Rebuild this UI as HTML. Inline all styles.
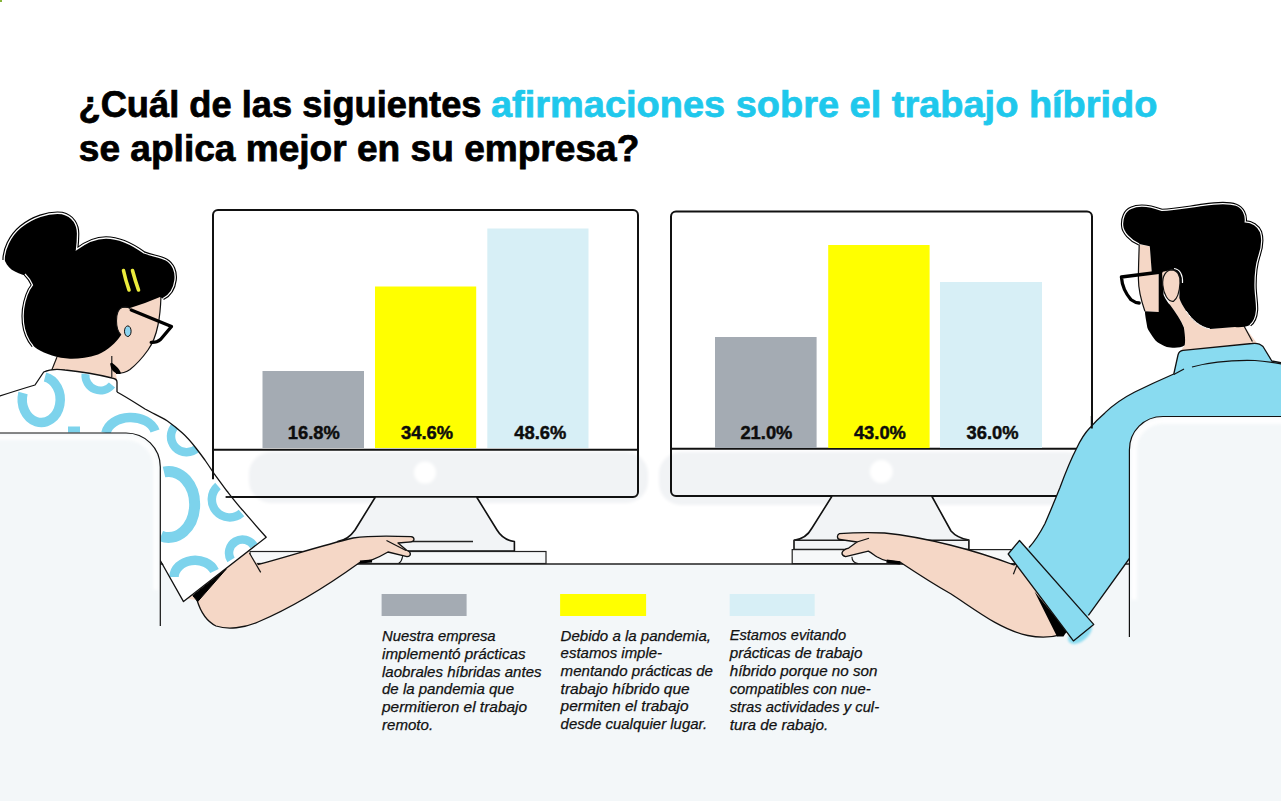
<!DOCTYPE html>
<html lang="es">
<head>
<meta charset="utf-8">
<title>Trabajo híbrido</title>
<style>
html,body{margin:0;padding:0;background:#fff;}
body{width:1281px;height:801px;overflow:hidden;position:relative;}
svg{position:absolute;left:0;top:0;display:block;}
.t{font-family:"Liberation Sans",Arial,sans-serif;font-weight:bold;}
.lg{font-family:"Liberation Sans",Arial,sans-serif;font-style:italic;font-size:14.6px;fill:#111;stroke:#111;stroke-width:0.25px;}
.pc{font-family:"Liberation Sans",Arial,sans-serif;font-weight:bold;font-size:18.2px;fill:#0d0d0d;stroke:#0d0d0d;stroke-width:0.45px;}
</style>
</head>
<body>
<svg width="1281" height="801" viewBox="0 0 1281 801">
<defs>
  <filter id="bl3" x="-20%" y="-50%" width="140%" height="200%"><feGaussianBlur stdDeviation="3"/></filter>
  <filter id="bl1" x="-20%" y="-50%" width="140%" height="200%"><feGaussianBlur stdDeviation="1.2"/></filter>
  <filter id="bl2" x="-20%" y="-50%" width="140%" height="200%"><feGaussianBlur stdDeviation="1.5"/></filter>
  <clipPath id="shirtclip"><path d="M-5,398 L0,396 C12,392 25,388 35,385 L43.7,372 C50,369 58,369 65,370 C85,372 100,375 112,378 C115,378.5 117,379.5 117,382 L117,392 C128,398 137,404 145,409 C153,413.5 161,417 167.4,421 C173,425 178,429 182.4,433 C188,438 192,443 195.9,448 C199,452 202,456 204.9,460 C208,464.5 211,469 213.9,473.4 C218,479 222.5,485 226.9,491 C232,497.5 237,504 242.6,510.2 C250,519 258,528 266.2,537.2 L183.5,601.6 L150,540 L150,650 L-5,650 Z"/></clipPath>
</defs>
<!-- background -->
<rect x="0" y="0" width="1281" height="801" fill="#ffffff"/>
<rect x="0" y="0" width="2" height="2" fill="#86b43a"/>
<!-- desk -->
<rect x="0" y="564" width="1281" height="237" fill="#f3f7f9"/>

<!-- ===== TITLE ===== -->
<text class="t" x="78.5" y="117" font-size="37" fill="#000" stroke="#000" stroke-width="0.75" textLength="403" lengthAdjust="spacingAndGlyphs">¿Cuál de las siguientes</text>
<text class="t" x="491" y="117" font-size="37" fill="#1fc8ec" stroke="#1fc8ec" stroke-width="0.75" textLength="666.5" lengthAdjust="spacingAndGlyphs">afirmaciones sobre el trabajo híbrido</text>
<text class="t" x="78.8" y="161" font-size="37" fill="#000" stroke="#000" stroke-width="0.75" textLength="560.5" lengthAdjust="spacingAndGlyphs">se aplica mejor en su empresa?</text>

<!-- MONITORS go here -->
<g id="mon1">
  <rect x="213" y="210" width="425" height="287" rx="5" fill="#fff"/>
  <rect x="249" y="452" width="399" height="51" rx="22" fill="#f1f3f5" filter="url(#bl2)"/>
  <circle cx="425" cy="472.6" r="11" fill="#fff" filter="url(#bl2)"/>
  <rect x="213" y="210" width="425" height="287" rx="5" fill="none" stroke="#111" stroke-width="2"/>
  <line x1="213" y1="449.7" x2="638" y2="449.7" stroke="#111" stroke-width="2"/>
  <!-- stand -->
  <path d="M375.4,497 L355,530 Q348,540 337.6,541.5 L337.6,551 L514.4,551 L514.4,541.5 Q503,540 497,530 L476.6,497 Z" fill="#f2f4f6" stroke="#111" stroke-width="1.6" stroke-linejoin="round"/>
  <line x1="405" y1="541.5" x2="473" y2="541.5" stroke="#222" stroke-width="1.4"/>
  <!-- keyboard -->
  <rect x="250" y="551.5" width="296" height="12" fill="#f6f8f9" stroke="#222" stroke-width="1.2"/>
  <!-- bars -->
  <rect x="262.5" y="371" width="101.5" height="77" fill="#a4abb3"/>
  <rect x="375" y="286.5" width="101.2" height="161.5" fill="#ffff00"/>
  <rect x="487.3" y="228.5" width="101.2" height="219.5" fill="#d7eff6"/>
  <text class="pc" x="313.8" y="438.9" textLength="52" lengthAdjust="spacingAndGlyphs" text-anchor="middle">16.8%</text>
  <text class="pc" x="427.1" y="438.9" textLength="52" lengthAdjust="spacingAndGlyphs" text-anchor="middle">34.6%</text>
  <text class="pc" x="540.3" y="438.9" textLength="52" lengthAdjust="spacingAndGlyphs" text-anchor="middle">48.6%</text>
</g>

<g id="mon2">
  <rect x="671" y="211.5" width="421" height="284.5" rx="5" fill="#fff"/>
  <rect x="659" y="452" width="430" height="53" rx="22" fill="#f1f3f5" filter="url(#bl2)"/>
  <circle cx="881.3" cy="471.6" r="11.5" fill="#fff" filter="url(#bl2)"/>
  <rect x="671" y="211.5" width="421" height="284.5" rx="5" fill="none" stroke="#111" stroke-width="2"/>
  <line x1="671" y1="448.75" x2="1092" y2="448.75" stroke="#111" stroke-width="2"/>
  <path d="M832.1,496 L812,528 Q806,539 794,540.2 L794,549.6 L968.9,549.6 L968.9,540 Q957,538 951,531 L931.7,496 Z" fill="#f2f4f6" stroke="#111" stroke-width="1.6" stroke-linejoin="round"/>
  <rect x="792.2" y="549.6" width="230" height="14" fill="#f6f8f9" stroke="#222" stroke-width="1.2"/>
  <line x1="794" y1="540.2" x2="968.9" y2="540.2" stroke="#222" stroke-width="1.4"/>
  <rect x="715" y="337" width="101.6" height="111" fill="#a4abb3"/>
  <rect x="828.2" y="245" width="101.4" height="203" fill="#ffff00"/>
  <rect x="940" y="282" width="102" height="166" fill="#d7eff6"/>
  <text class="pc" x="766.4" y="438.8" textLength="52" lengthAdjust="spacingAndGlyphs" text-anchor="middle">21.0%</text>
  <text class="pc" x="879.9" y="438.8" textLength="52" lengthAdjust="spacingAndGlyphs" text-anchor="middle">43.0%</text>
  <text class="pc" x="992.6" y="438.8" textLength="52" lengthAdjust="spacingAndGlyphs" text-anchor="middle">36.0%</text>
</g>
<!-- desk edge -->
<line x1="160" y1="564" x2="1129" y2="564" stroke="#222" stroke-width="1.3"/>

<!-- WOMAN -->
<g id="woman">
  <!-- skin: face + neck -->
  <path d="M50,373 L57,355 L100,352 L117,309 L161,295 C160.5,310 159.5,318 158,325 C156,335 153,343 148,350 C143,357 137,364 130,369.5 C126,372.5 121,373.5 116,373.5 L117,381 Z" fill="#f5d7c6"/>
  <path d="M161,296 C160.5,310 159.5,318 158,325 C156,335 153,343 148,350 C143,357 137,364 130,369.5 C126,372.5 121,373.5 116,373.5" fill="none" stroke="#111" stroke-width="1.2"/>
  <path d="M111.8,356 L111.8,377" stroke="#111" stroke-width="1.1" fill="none"/>
  <path d="M111.5,364 C112,369 114.5,372 119.5,372.8 C118,369.5 115,366.5 111.5,364 Z" fill="#000" stroke="#000" stroke-width="2.6" stroke-linejoin="round"/>
  <path d="M57,357 L51,372" stroke="#111" stroke-width="1.1"/>
  <!-- hair -->
  <path id="whair" d="M4.2,260 C4,250 10,236 21,227 C32,218 48,212 62,213.5 C73,216 78,225 77.5,235 C77.5,241 77,246 76.5,249.6 C85,243 95,238 106,238 C120,238 133,245 144,253 C152,256 160,257 166,260 C173,264 176,272 175,280 C174,288 170,295 163,298.5 L160,297 C150,301 140,305 130,308 L122,307.5 C118,309 116.5,315 116.5,321 C116.5,327 118,332 121,335 C116,343 108,350 98,354.5 C88,358 78,359 70,358.8 C58,358 45,354 37.3,349 C30,344 25,335 23.5,323 C22.5,313 24,303 27,295 C28.5,291 30,288 32.5,285 C30,281 28,278 27,276 C15,273 6,268 4.2,258 Z" fill="#000"/>
  <g fill="none">
  <path d="M4.2,260 C4,250 10,236 21,227 C32,218 48,212 62,213.5 C73,216 78,225 77.5,235 C77.5,241 77,246 76.5,249.6 C85,243 95,238 106,238 C120,238 133,245 144,253 C152,256 160,257 166,260 C173,264 176,272 175,280 C174,288 170,295 163,298.5" stroke="#000" stroke-width="3.6"/>
  <path d="M4.2,260 C4,250 10,236 21,227 C32,218 48,212 62,213.5 C73,216 78,225 77.5,235 C77.5,241 77,246 76.5,249.6 C85,243 95,238 106,238 C120,238 133,245 144,253 C152,256 160,257 166,260 C173,264 176,272 175,280 C174,288 170,295 163,298.5" stroke="#fff" stroke-width="1.3"/>
  <path d="M25,274 C29,278 31,281 32.5,285 C30,288 28.5,291 27,295 C24,303 22.5,313 23.5,323 C24.5,332 28,340 33,346" stroke="#000" stroke-width="3.4"/>
  <path d="M25,274 C29,278 31,281 32.5,285 C30,288 28.5,291 27,295 C24,303 22.5,313 23.5,323 C24.5,332 28,340 33,346" stroke="#fff" stroke-width="1.2"/>
  </g>
  <!-- ear -->
  <path d="M121,335 C118,332 116.5,327 116.5,321 C116.5,315 118,309 122,307.5 C125,306.5 128,307 130,308.5" fill="none" stroke="#111" stroke-width="1.1"/>
  <ellipse cx="127.8" cy="331.2" rx="3.3" ry="5.3" fill="#8dd4f0" stroke="#111" stroke-width="1"/>
  <!-- clips -->
  <path d="M123.5,270.5 Q125.5,280 129,290" fill="none" stroke="#ecec3c" stroke-width="3.6" stroke-linecap="round"/>
  <path d="M132.5,270.5 Q135,280 138.5,290" fill="none" stroke="#ecec3c" stroke-width="3.6" stroke-linecap="round"/>
  <!-- glasses -->
  <path d="M131.2,310 L171.5,326.5 L160.5,339.5 C157.5,342 154,342.6 151.2,342.4" fill="none" stroke="#000" stroke-width="3.3" stroke-linejoin="round" stroke-linecap="round"/>
  <!-- arm -->
  <path d="M257.7,564.6 C290,556 320,546 353,538 C370,535.5 395,536 411,536.7 C415,537.2 415,541.5 411,541.8 L398,543 L407,550.5 C411.5,552 411.5,556.5 407,556.6 L388,552 C383,555 377,558 371.4,560.1 L359.7,562.5 C334,581 296,606 258,622 C244,628 228,630 216,626 C206,621 200,610 197,600 L180,598 L248,546 L249.4,553 Z" fill="#f5d7c6"/>
  <path d="M257.7,564.6 C290,556 320,546 353,538 C370,535.5 395,536 411,536.7 C415,537.2 415,541.5 411,541.8 L398,543 L407,550.5 C411.5,552 411.5,556.5 407,556.6 L388,552 C383,555 377,558 371.4,560.1 L359.7,562.5 C334,581 296,606 258,622 C244,628 228,630 216,626 C206,621 200,610 197,600" fill="none" stroke="#111" stroke-width="1.3" stroke-linejoin="round"/>
  <path d="M386.5,540.5 L406,550.5" stroke="#111" stroke-width="1.2"/>
  <path d="M402.6,556.2 C402,560 400.5,562.5 398.7,563.3" fill="none" stroke="#111" stroke-width="1.1"/>
  <path d="M360,562 L372,561" stroke="#000" stroke-width="3.2"/>
  <!-- shirt -->
  <path d="M-5,398 L0,396 C12,392 25,388 35,385 L43.7,372 C50,369 58,369 65,370 C85,372 100,375 112,378 C115,378.5 117,379.5 117,382 L117,392 C128,398 137,404 145,409 C153,413.5 161,417 167.4,421 C173,425 178,429 182.4,433 C188,438 192,443 195.9,448 C199,452 202,456 204.9,460 C208,464.5 211,469 213.9,473.4 C218,479 222.5,485 226.9,491 C232,497.5 237,504 242.6,510.2 C250,519 258,528 266.2,537.2 L183.5,601.6 L150,540 L150,650 L-5,650 Z" fill="#fff"/>
  <path d="M-5,398 L0,396 C12,392 25,388 35,385 L43.7,372 C50,369 58,369 65,370 C85,372 100,375 112,378 C115,378.5 117,379.5 117,382 L117,392" fill="none" stroke="#111" stroke-width="1.3" stroke-linejoin="round"/>
  <!-- arcs -->
  <g fill="none" stroke="#7dd3ec" stroke-width="9.5" clip-path="url(#shirtclip)">
    <path d="M45,377 A19,23 0 1 1 23,393"/>
    <path d="M85.5,374 A15,15 0 0 0 112,385" stroke-width="8"/>
    <path d="M106,433 A25,18 0 0 1 155,431"/>
    <path d="M176,425 A13,13 0 1 0 197.5,448" stroke-width="8.5"/>
    <path d="M164,472 A26,33 0 1 1 161,536" stroke-width="11"/>
    <path d="M218,486 A14,14 0 1 0 241.5,513" stroke-width="8.5"/>
    <path d="M174,577 A21,17 0 0 1 214.5,571"/>
    <path d="M231,560 A13,13 0 0 1 254,546" stroke-width="8.5"/>
    <path d="M68,429.5 L80,429.5" stroke-width="6"/>
  </g>
  <!-- black wedge and crease -->
  <path d="M192.8,595.6 L226.2,569.1 L197.7,601.6 Z" fill="#000" stroke="#000" stroke-width="1"/>
  <path d="M249.4,553 L260.7,572.4" stroke="#111" stroke-width="1.2"/>
  <!-- re-stroke sleeve edge on top of arcs -->
  <path d="M117,392 C128,398 137,404 145,409 C153,413.5 161,417 167.4,421 C173,425 178,429 182.4,433 C188,438 192,443 195.9,448 C199,452 202,456 204.9,460 C208,464.5 211,469 213.9,473.4 C218,479 222.5,485 226.9,491 C232,497.5 237,504 242.6,510.2 C250,519 258,528 266.2,537.2 L183.5,601.6 L160,560" fill="none" stroke="#111" stroke-width="1.3" stroke-linejoin="round"/>
  <!-- chair -->
  <path d="M-5,433 L126,433 C145,433 160.3,448 160.3,467 L160.3,660 L-5,660 Z" fill="#f3f7f9"/>
  <path d="M-5,437.5 L126,437.5 C142,437.5 155.8,450 155.8,467 L155.8,590" fill="none" stroke="#fff" stroke-width="5" opacity="0.85" filter="url(#bl2)"/>
  <path d="M-5,433 L126,433 C145,433 160.3,448 160.3,467 L160.3,626" fill="none" stroke="#111" stroke-width="1.2"/>
</g>

<line x1="213" y1="466" x2="213" y2="479.3" stroke="#111" stroke-width="2"/>
<line x1="225.6" y1="497" x2="234" y2="497" stroke="#111" stroke-width="1.8"/>
<!-- MAN -->
<g id="man">
  <!-- neck skin -->
  <path d="M1160,272 L1170,304.7 C1176,313 1181,320 1184,327 L1184.7,345.3 L1179.7,352 L1257.6,344 L1244,326 L1210,329 C1200,327 1192,320 1186.3,311.2 C1183,306 1180.5,302 1179.3,298 L1172,268 Z" fill="#f5d7c6"/>
  <path d="M1244,326 L1252.4,341.5" stroke="#111" stroke-width="1.2"/>
  <!-- face skin -->
  <path d="M1139.2,244.6 L1149.8,246.2 L1151.8,272.8 L1158.7,272.5 L1159,312 L1144.9,311.2 C1141,300 1138.4,290 1138.4,278.7 C1138.4,265 1139,255 1139.2,244.6 Z" fill="#f5d7c6"/>
  <path d="M1139.2,244.6 C1139,255 1138.4,265 1138.4,278.7 C1138.4,290 1141,300 1144.9,311.2" fill="none" stroke="#111" stroke-width="1.2"/>
  <!-- hair + beard -->
  <path d="M1139.2,244 C1130,240 1123,232 1122.7,225.9 C1122,218 1125,211 1131,208.4 C1138,205 1150,206 1161.8,210.4 C1175,210 1190,207 1203,205.3 C1215,203.5 1227,202 1236,205.3 C1243,208 1246,215 1245.2,221.8 C1252,222 1258,226 1260.5,232 C1263,240 1261,250 1258.6,256.8 C1256,265 1255,275 1255,285 C1255,295 1257,303 1256.5,310.3 C1256,317 1254,322 1250,325 C1246,327 1240,327.5 1235,327 L1210,329 C1200,327 1192,320 1186.3,311.2 C1183,306 1180.5,302 1179.3,298 L1179.8,278.7 L1171.7,269.8 L1162,272 L1163.6,295 C1166,300 1168,303 1170,304.7 C1176,313 1181,320 1183.9,327.4 C1185,335 1185.5,341 1184.7,345.3 C1180,348.5 1172,348 1166.8,346.9 C1160,344 1157,342 1155.5,340.4 C1151,334 1148,330 1147.3,327.4 C1146,320 1145,315 1144.9,311.2 L1158.7,312 L1158.7,272.5 L1151.8,272.8 L1149.8,246.2 Z" fill="#000"/>
  <path d="M1139.2,244 C1130,240 1123,232 1122.7,225.9 C1122,218 1125,211 1131,208.4 C1138,205 1150,206 1161.8,210.4 C1175,210 1190,207 1203,205.3 C1215,203.5 1227,202 1236,205.3 C1243,208 1246,215 1245.2,221.8 C1252,222 1258,226 1260.5,232 C1263,240 1261,250 1258.6,256.8 C1256,265 1255,275 1255,285 C1255,295 1257,303 1256.5,310.3 C1256,317 1254,322 1250,325" fill="none" stroke="#000" stroke-width="3.4"/>
  <path d="M1139.2,244 C1130,240 1123,232 1122.7,225.9 C1122,218 1125,211 1131,208.4 C1138,205 1150,206 1161.8,210.4 C1175,210 1190,207 1203,205.3 C1215,203.5 1227,202 1236,205.3 C1243,208 1246,215 1245.2,221.8 C1252,222 1258,226 1260.5,232 C1263,240 1261,250 1258.6,256.8 C1256,265 1255,275 1255,285 C1255,295 1257,303 1256.5,310.3 C1256,317 1254,322 1250,325" fill="none" stroke="#fff" stroke-width="1.2"/>
  <path d="M1186.3,311.2 C1192,320 1200,327 1210,329" fill="none" stroke="#fff" stroke-width="1"/>
  <!-- ear -->
  <path d="M1162.8,285 C1162,276 1166,270 1171.7,269.8 C1177,270 1180.5,275 1180,283 C1179.5,292 1177,299 1173.3,301.4 C1168,302 1163.5,294 1162.8,285 Z" fill="#f5d7c6" stroke="#111" stroke-width="1.2"/>
  <path d="M1174,268.5 C1180,269 1183,275 1182.5,283" fill="none" stroke="#fff" stroke-width="1.2"/>
  <!-- glasses -->
  <path d="M1161,272 L1121.4,277 C1122,285 1126,294 1131.1,299.8 C1134,302 1137,303 1139.2,303" fill="none" stroke="#000" stroke-width="3.3" stroke-linejoin="round" stroke-linecap="round"/>
  <!-- arm -->
  <path d="M1022,559 L1014,565 C990,556 970,550 950,545 C930,540 910,535.5 884.6,533 C870,532.5 850,532.9 839.4,533.7 C836.5,535 837,539.5 840,539.5 L857,542 L848.7,548.1 C841,550 840,555 845.6,556.7 L868.3,551.2 C872,553 874,555 876.8,556.7 C880,558.5 883,560 886.2,560.6 L900.3,562.2 C915,572 930,582 951.1,594 C965,603 980,614 994.9,622.4 C1005,628 1016,633 1027.7,635.5 C1040,638 1050,638 1062.6,634.4 L1070,629 Z" fill="#f5d7c6" stroke="#111" stroke-width="1.3" stroke-linejoin="round"/>
  <path d="M869,538.3 L857,542" stroke="#111" stroke-width="1.2"/>
  <path d="M851.9,556.7 C852,561 854,563 858,563.5" fill="none" stroke="#111" stroke-width="1.1"/>
  <path d="M886.5,561.2 L900,562.8" stroke="#000" stroke-width="3.2"/>
  <path d="M1016.7,565.6 L1013.4,574.3" stroke="#111" stroke-width="1.2"/>
  <path d="M1034.5,591.4 L1057,636.5 L1063.5,636.5 L1067,631 Z" fill="#000"/>
  <!-- shirt -->
  <path d="M1178,355 Q1179,351 1183,350.4 L1252,343.5 Q1259,342.5 1263,346.5 L1271.8,361 L1290,364.5 L1290,660 L1145,660 L1145,537 L1088.4,615.4 L1080,630 L1012,550 L1029,547.5 C1035,541 1040,533 1044.9,523.7 C1050,512 1055,500 1059.9,487.8 C1065,474 1070,461 1076.4,448.8 C1080,441 1084,434 1089.9,427.8 C1094,423 1099,418 1104.9,412.9 C1112,406 1123,398 1134.8,392 C1147,386 1160,380 1173.8,374 Z" fill="#89dbf0"/>
  <path d="M1129.4,558.5 L1088.4,615.4 M1029,547.5 C1035,541 1040,533 1044.9,523.7 C1050,512 1055,500 1059.9,487.8 C1065,474 1070,461 1076.4,448.8 C1080,441 1084,434 1089.9,427.8 C1094,423 1099,418 1104.9,412.9 C1112,406 1123,398 1134.8,392 C1147,386 1160,380 1173.8,374 L1178,355 Q1179,351 1183,350.4 L1252,343.5 Q1259,342.5 1263,346.5 L1271.8,361 L1290,364.5" fill="none" stroke="#111" stroke-width="1.3" stroke-linejoin="round"/>
  <path d="M1192,367 C1210,362 1235,360 1255,360.5 C1265,361 1272,362 1290,365.5" fill="none" stroke="#111" stroke-width="1.2"/>
  <path d="M1173.8,374.5 L1184,369" fill="none" stroke="#111" stroke-width="1.2"/>
  <!-- cuff -->
  <ellipse cx="1080" cy="633" rx="14" ry="8" transform="rotate(-40 1080 633)" fill="#89dbf0" filter="url(#bl1)"/>
  <path d="M1008.2,554 L1019.5,540.5 L1093.7,624.4 L1073.4,640.9 Z" fill="#89dbf0" stroke="#111" stroke-width="1.3" stroke-linejoin="round"/>
  <!-- chair -->
  <path d="M1129.4,700 L1129.4,450 C1129.4,431 1144,416.5 1163,416.5 L1290,416.5 L1290,700 Z" fill="#f3f7f9"/>
  <path d="M1134,600 L1134,450 C1134,433 1147,421 1163,421 L1290,421" fill="none" stroke="#fff" stroke-width="6" opacity="0.9" filter="url(#bl2)"/>
  <path d="M1129.4,637 L1129.4,450 C1129.4,431 1144,416.5 1163,416.5 L1290,416.5" fill="none" stroke="#111" stroke-width="1.2"/>
</g>

<line x1="1091.8" y1="416" x2="1091.8" y2="428.5" stroke="#111" stroke-width="2"/>
<!-- LEGEND -->
<g id="legend">
  <rect x="381.6" y="594" width="85" height="22" fill="#a4abb3"/>
  <rect x="560.1" y="594" width="86" height="22" fill="#ffff00"/>
  <rect x="729.7" y="594" width="85" height="22" fill="#d7eff6"/>
  <text class="lg" x="382" y="641.1" textLength="113.6" lengthAdjust="spacingAndGlyphs">Nuestra empresa</text>
  <text class="lg" x="382" y="658.9" textLength="143.6" lengthAdjust="spacingAndGlyphs">implementó prácticas</text>
  <text class="lg" x="382" y="676.6" textLength="159.5" lengthAdjust="spacingAndGlyphs">laobrales híbridas antes</text>
  <text class="lg" x="382" y="694.3" textLength="132.0" lengthAdjust="spacingAndGlyphs">de la pandemia que</text>
  <text class="lg" x="382" y="712" textLength="145.1" lengthAdjust="spacingAndGlyphs">permitieron el trabajo</text>
  <text class="lg" x="382" y="729.7" textLength="51.1" lengthAdjust="spacingAndGlyphs">remoto.</text>
  <text class="lg" x="560.6" y="640.5" textLength="150.4" lengthAdjust="spacingAndGlyphs">Debido a la pandemia,</text>
  <text class="lg" x="560.6" y="658.2" textLength="101.5" lengthAdjust="spacingAndGlyphs">estamos imple-</text>
  <text class="lg" x="560.6" y="676" textLength="152.4" lengthAdjust="spacingAndGlyphs">mentando prácticas de</text>
  <text class="lg" x="560.6" y="693.7" textLength="129.1" lengthAdjust="spacingAndGlyphs">trabajo híbrido que</text>
  <text class="lg" x="560.6" y="711.4" textLength="128.0" lengthAdjust="spacingAndGlyphs">permiten el trabajo</text>
  <text class="lg" x="560.6" y="729.2" textLength="146.5" lengthAdjust="spacingAndGlyphs">desde cualquier lugar.</text>
  <text class="lg" x="729.7" y="639.8" textLength="116.5" lengthAdjust="spacingAndGlyphs">Estamos evitando</text>
  <text class="lg" x="729.7" y="657.8" textLength="132.7" lengthAdjust="spacingAndGlyphs">prácticas de trabajo</text>
  <text class="lg" x="729.7" y="675.7" textLength="147.8" lengthAdjust="spacingAndGlyphs">híbrido porque no son</text>
  <text class="lg" x="729.7" y="693.7" textLength="141.1" lengthAdjust="spacingAndGlyphs">compatibles con nue-</text>
  <text class="lg" x="729.7" y="711.7" textLength="149.4" lengthAdjust="spacingAndGlyphs">stras actividades y cul-</text>
  <text class="lg" x="729.7" y="729.7" textLength="98.5" lengthAdjust="spacingAndGlyphs">tura de rabajo.</text>
</g>
</svg>
</body>
</html>
